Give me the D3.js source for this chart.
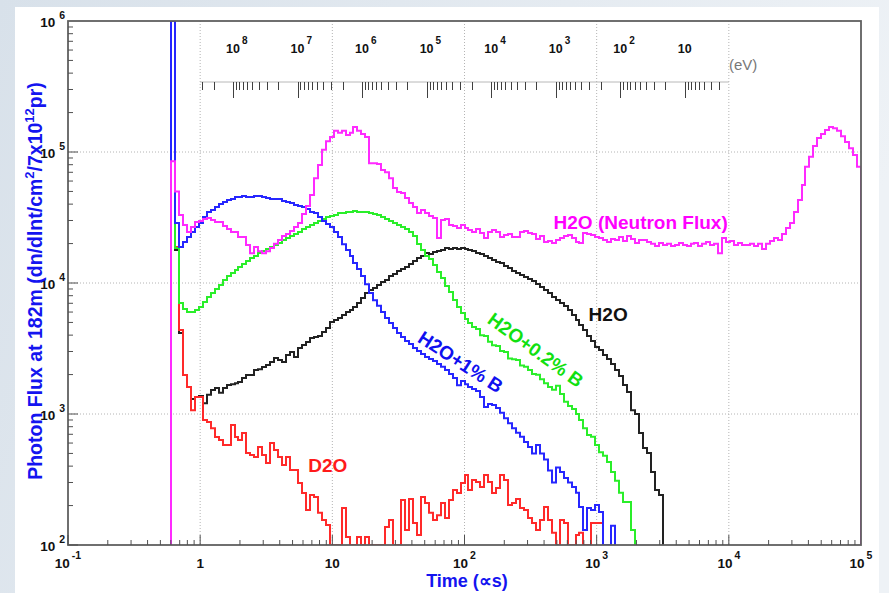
<!DOCTYPE html>
<html>
<head>
<meta charset="utf-8">
<script src="https://cdn.jsdelivr.net/npm/d3@7"></script>
<style>
  html, body { margin: 0; padding: 0; background: #e4eaf0; }
  svg { display: block; }
  text { font-family: "Liberation Sans", Arial, Helvetica, sans-serif; }
</style>
</head>
<body>
<svg id="chart" width="889" height="593"></svg>
<script>
// Histogram binning: 200 equal-log-width time bins from 0.1 to 1e5 microseconds
const timeRange = [0.1, 1e5];
const binCount = 200;
const firstBin = 26;            // index of the first filled bin (gamma flash)
const fluxRange = [1e2, 1e6];

// Neutron-energy scale drawn across the top (eV at its two ends)
const energyRange = [3.22e8, 2.08];
const energyLabelValues = [1e8, 1e7, 1e6, 1e5, 1e4, 1e3, 1e2, 10];
const energyLabelText = [["10","8"],["10","7"],["10","6"],["10","5"],["10","4"],["10","3"],["10","2"],["10",""]];

const xTickValues = [0.1, 1, 10, 100, 1e3, 1e4, 1e5];
const xTickText = [["10","-1"],["1",""],["10",""],["10","2"],["10","3"],["10","4"],["10","5"]];
const yTickValues = [1e2, 1e3, 1e4, 1e5, 1e6];
const yTickText = [["10","2"],["10","3"],["10","4"],["10","5"],["10","6"]];

// Photon flux per bin, starting at firstBin
const h2oNeutron = [
  85000,50000,33000,27700,24500,26800,29200,29700,30800,31300,
  30300,29200,29200,27200,25800,24500,24500,22400,22400,19500,
  16900,18800,17500,16900,17500,18500,19900,21300,22800,23700,
  24900,26800,28700,33600,38700,47000,63000,79600,104000,121000,
  130000,145000,140000,145000,135000,140000,155000,145000,137000,130000,
  82000,82000,81000,73000,70000,63000,53000,49500,48700,44600,
  40800,38000,34200,36100,34200,32500,31300,22100,30300,30800,
  27700,27200,26300,27700,26300,25400,24500,25800,24100,22100,
  24500,25400,24500,22400,23200,23700,22400,22400,24500,24900,
  24100,23700,21700,22800,20600,20900,20200,21300,22100,22800,
  23200,22100,20600,20200,24100,23700,23200,22400,22100,21300,
  20600,21700,21300,22400,20900,22800,21700,20200,21300,21300,
  20600,19900,19200,20200,19500,19900,19200,19500,20200,19500,
  19200,19900,20200,19200,19900,20600,19500,19900,16900,22100,
  20600,20900,19500,20200,19500,19500,19900,19200,19900,18200,
  19900,20900,22100,21300,23700,26300,28700,34800,43000,56000,
  77000,92000,111000,128000,137000,147000,155000,152000,145000,132000,
  119000,107000,95000,77000
];
const h2o = [
  1500000,17860,4150,1985,1610,1300,1350,1370,1210,1400,
  1525,1580,1450,1580,1665,1690,1720,1755,1880,1985,
  1985,2170,2200,2285,2370,2495,2680,2580,2495,2820,
  2970,2720,3190,3360,3540,3800,3870,3940,4230,4535,
  5040,5220,5400,5700,6000,6220,6560,7040,7680,8390,
  8840,9160,9650,10180,10540,11310,11720,12350,12790,13250,
  13960,14720,15520,16080,16940,16650,17240,17550,17860,18500,
  18180,18500,18180,18500,18180,17860,17550,16940,16650,16080,
  15520,14980,14470,14210,13490,13020,12350,11920,11510,11110,
  10730,10350,9830,9320,8840,8390,7820,7420,7040,6680,
  6220,5700,5220,4780,4380,3940,3610,3250,3080,2820,
  2630,2410,2170,1950,1665,1470,1070,1000,716,550,
  504,361,263,241
];
const h2oBoron02 = [
  1500000,18500,7040,6330,6010,6010,6220,6560,7160,7820,
  8390,9000,9660,10540,11310,11920,12570,13250,13960,14720,
  15520,16080,16940,17550,18180,18830,19500,20200,21300,22060,
  22850,23660,24510,25840,26760,27720,28710,29740,30800,31900,
  32470,33050,34220,34220,34830,34830,35400,34830,34830,34830,
  34220,33630,33050,31900,30800,29740,28710,27720,26760,25840,
  24510,22850,19850,17860,16080,15250,13720,12130,10920,9490,
  8540,7420,6560,5900,5310,4950,4620,4450,4000,3940,
  3560,3350,3300,3020,2970,2650,2620,2580,2350,2290,
  2170,2020,1990,1840,1720,1610,1530,1640,1420,1240,
  1150,1090,1000,900,780,690,670,580,510,480,
  430,360,310,250,213,213,130
];
const h2oBoron1 = [
  1500000,28700,18800,20600,22400,24500,26800,28700,31900,34800,
  36100,38000,40100,41500,43000,43800,45300,45300,46100,45300,
  45300,46100,46100,45300,44600,43800,43800,43800,42300,41500,
  40800,39400,38700,38000,36700,34800,34200,31900,29700,28200,
  26800,24500,22400,19800,17900,16100,14200,12800,11300,9800,
  8400,7400,6700,6000,5400,4950,4530,4150,3870,3610,
  3420,3190,3030,2870,2720,2630,2540,2410,2290,2170,
  2020,1880,1660,1790,1690,1610,1550,1500,1350,1130,
  1190,1170,1110,1020,930,850,780,720,670,610,
  560,500,580,500,450,370,300,390,360,325,
  300,277,250,195,130,192,185,202,179,0,
  0,140
];
const d2o = [
  1500000,18800,4380,1985,1610,1070,1350,1350,900,870,
  780,667,633,580,580,824,667,633,716,504,
  486,470,560,486,423,601,531,470,408,470,
  374,374,297,249,185,241,232,176,155,142,
  0,0,0,192,115,0,0,115,0,115,
  0,0,0,0,137,155,0,0,221,130,
  224,147,119,232,209,176,155,169,209,161,
  221,263,249,297,342,263,313,303,277,342,
  303,249,272,342,313,202,209,224,192,185,
  161,147,130,155,195,155,124,0,155,147,
  0,0,119,124,0,0,147,147,147
];

// Drawing order: later series sit on top
const series = [
  { name: "H2O",              values: h2o,        color: "#222222" },
  { name: "D2O",              values: d2o,        color: "#ff2a2a" },
  { name: "H2O+0.2% B",       values: h2oBoron02, color: "#2aee2a" },
  { name: "H2O+1% B",         values: h2oBoron1,  color: "#2626ff" },
  { name: "H2O (Neutron Flux)", values: h2oNeutron, color: "#ff2aff" }
];

// In-plot labels, anchored in data coordinates (time, flux)
const annotations = [
  { text: "H2O (Neutron Flux)", t: 472, f: 25800, color: "#ff00ff", angle: 0,  anchor: "start" },
  { text: "H2O",                t: 869, f: 5130,  color: "#111111", angle: 0,  anchor: "start" },
  { text: "D2O",                t: 6.58, f: 361,  color: "#ff1a1a", angle: 0,  anchor: "start" },
  { text: "H2O+0.2% B",         t: 345, f: 3080,  color: "#11e011", angle: 36, anchor: "middle" },
  { text: "H2O+1% B",           t: 93.3, f: 2494, color: "#1010f0", angle: 33, anchor: "middle" }
];

const W = 889, H = 593;
const plot = { left: 68, right: 861, top: 21, bottom: 545 };

const svg = d3.select("#chart");

// page background and white panel
const defs = svg.append("defs");
const bg = defs.append("linearGradient").attr("id", "bg").attr("x1", "0").attr("x2", "1").attr("y1", "0").attr("y2", "0.3");
bg.append("stop").attr("offset", "0").attr("stop-color", "#d8e1ea");
bg.append("stop").attr("offset", "1").attr("stop-color", "#eef2f6");
svg.append("rect").attr("width", W).attr("height", H).attr("fill", "url(#bg)");
svg.append("rect").attr("x", 15).attr("y", 7).attr("width", 864).attr("height", H - 7).attr("fill", "#ffffff");

defs.append("clipPath").attr("id", "plotClip").append("rect")
  .attr("x", plot.left).attr("y", plot.top)
  .attr("width", plot.right - plot.left).attr("height", plot.bottom - plot.top);

const x = d3.scaleLog().domain(timeRange).range([plot.left, plot.right]);
const xBin = d3.scaleLog().domain(timeRange).rangeRound([plot.left, plot.right]);
const y = d3.scaleLog().domain(fluxRange).range([plot.bottom, plot.top]).clamp(true);
const e = d3.scaleLog().domain(energyRange).range([x(1), x(1e4)]);

// dotted grid at decades
const gridColor = "#b4b4b4";
const grid = svg.append("g").attr("stroke", gridColor).attr("stroke-width", 1).attr("stroke-dasharray", "1,2");
[1, 10, 100, 1e3, 1e4].forEach(t => {
  grid.append("line").attr("x1", x(t)).attr("x2", x(t)).attr("y1", plot.top).attr("y2", plot.bottom);
});
[1e3, 1e4, 1e5].forEach(f => {
  grid.append("line").attr("x1", plot.left).attr("x2", plot.right).attr("y1", y(f)).attr("y2", y(f));
});

// neutron energy scale
const eAxisY = 82;
const eg = svg.append("g");
eg.append("line").attr("x1", e.range()[0]).attr("x2", e.range()[1])
  .attr("y1", eAxisY).attr("y2", eAxisY).attr("stroke", "#b8b8b8").attr("stroke-width", 1);
const eTicks = [];
for (let p = 0; p <= 8; p++) {
  for (let m = 1; m <= 9; m++) {
    const v = m * Math.pow(10, p);
    if (v <= energyRange[0] && v >= energyRange[1]) eTicks.push({ v, major: m === 1 });
  }
}
eg.selectAll("line.etick").data(eTicks).join("line").attr("class", "etick")
  .attr("x1", d => Math.round(e(d.v)) + 0.5).attr("x2", d => Math.round(e(d.v)) + 0.5)
  .attr("y1", eAxisY).attr("y2", d => eAxisY + (d.major ? 16 : 8))
  .attr("stroke", "#404040").attr("stroke-width", 1);
energyLabelValues.forEach((v, i) => {
  const [base, sup] = energyLabelText[i];
  const cx = e(v);
  eg.append("text").attr("x", cx).attr("y", 53).attr("text-anchor", "middle")
    .attr("font-size", 12.5).attr("font-weight", "bold").attr("fill", "#111").text(base);
  if (sup) {
    eg.append("text").attr("x", cx + 9).attr("y", 44)
      .attr("font-size", 10).attr("font-weight", "bold").attr("fill", "#111").text(sup);
  }
});
eg.append("text").attr("x", 729).attr("y", 70).attr("font-size", 15)
  .attr("fill", "#777").text("(eV)");

// histograms
const binEdge = k => timeRange[0] * Math.pow(timeRange[1] / timeRange[0], k / binCount);
function histPoints(values) {
  const pts = [[binEdge(firstBin), fluxRange[0]]];
  values.forEach((v, i) => {
    const k = firstBin + i;
    const f = v > 0 ? v : fluxRange[0];
    pts.push([binEdge(k), f], [binEdge(k + 1), f]);
  });
  pts.push([binEdge(firstBin + values.length), fluxRange[0]]);
  return pts;
}
const line = d3.line().x(d => xBin(d[0])).y(d => y(d[1]));
const hg = svg.append("g").attr("clip-path", "url(#plotClip)");
series.forEach(s => {
  hg.append("path").attr("d", line(histPoints(s.values)))
    .attr("fill", "none").attr("stroke", s.color).attr("stroke-width", 2)
    .attr("stroke-linejoin", "miter");
});

// frame
const axisColor = "#606060";
svg.append("rect").attr("x", plot.left).attr("y", plot.top)
  .attr("width", plot.right - plot.left).attr("height", plot.bottom - plot.top)
  .attr("fill", "none").attr("stroke", axisColor).attr("stroke-width", 1.8);

// minor/major ticks on the bottom and left axes
const ticks = svg.append("g").attr("stroke", "#505050").attr("stroke-width", 1);
for (let p = -1; p <= 4; p++) {
  for (let m = 1; m <= 9; m++) {
    const t = m * Math.pow(10, p);
    const len = m === 1 ? 10 : 5;
    const xx = x(t);
    ticks.append("line").attr("x1", xx).attr("x2", xx).attr("y1", plot.bottom).attr("y2", plot.bottom - len);
  }
}
for (let p = 2; p <= 5; p++) {
  for (let m = 1; m <= 9; m++) {
    const f = m * Math.pow(10, p);
    const len = m === 1 ? 10 : 5;
    const yy = y(f);
    ticks.append("line").attr("x1", plot.left).attr("x2", plot.left + len).attr("y1", yy).attr("y2", yy);
  }
}

// tick labels
xTickValues.forEach((t, i) => {
  const [base, sup] = xTickText[i];
  const tx = svg.append("text").attr("x", x(t)).attr("y", 568).attr("text-anchor", "middle")
    .attr("font-weight", "bold").attr("fill", "#111");
  tx.append("tspan").attr("font-size", 13.5).text(base);
  if (sup) tx.append("tspan").attr("font-size", 10.5).attr("dx", 2).attr("dy", -9).text(sup);
});
yTickValues.forEach((f, i) => {
  const [base, sup] = yTickText[i];
  const ty = svg.append("text").attr("x", 65).attr("y", y(f) + 5.5).attr("text-anchor", "end")
    .attr("font-weight", "bold").attr("fill", "#111");
  ty.append("tspan").attr("font-size", 13.5).text(base);
  ty.append("tspan").attr("font-size", 10.5).attr("dx", 4).attr("dy", -8).text(sup);
});

// axis titles
const titleColor = "#1414f0";
svg.append("text").attr("x", 467).attr("y", 587).attr("text-anchor", "middle")
  .attr("font-size", 18).attr("font-weight", "bold").attr("fill", titleColor).text("Time (\u221Ds)");

const yt = svg.append("text").attr("transform", "translate(42,281) rotate(-90)")
  .attr("text-anchor", "middle").attr("font-size", 19.5).attr("font-weight", "bold").attr("fill", titleColor);
yt.append("tspan").text("Photon Flux at 182m (dn/dlnt/cm");
yt.append("tspan").attr("font-size", 13).attr("dy", -8).text("2");
yt.append("tspan").attr("dy", 8).text("/7x10");
yt.append("tspan").attr("font-size", 13).attr("dy", -8).text("12");
yt.append("tspan").attr("dy", 8).text("pr)");

// series labels
annotations.forEach(a => {
  const px = x(a.t), py = y(a.f);
  svg.append("text")
    .attr("transform", `translate(${px},${py}) rotate(${a.angle})`)
    .attr("text-anchor", a.anchor)
    .attr("dominant-baseline", a.anchor === "middle" ? "central" : "alphabetic")
    .attr("font-size", 19).attr("font-weight", "bold").attr("fill", a.color)
    .text(a.text);
});
</script>
</body>
</html>
